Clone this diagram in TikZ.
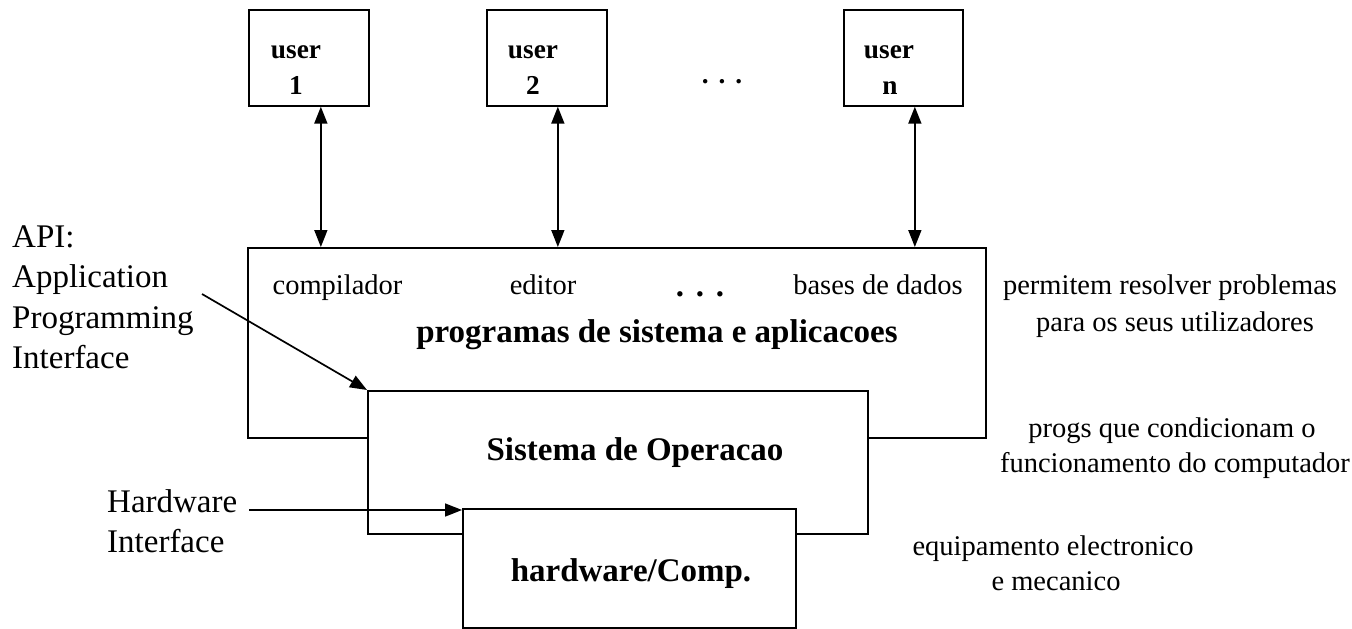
\documentclass[tikz,border=0pt]{standalone}
\usepackage{fontspec}
\setmainfont{Liberation Serif}
\usetikzlibrary{arrows.meta}
\tikzset{
  box/.style={draw, line width=1.7pt, fill=white, rectangle, inner sep=0pt, anchor=north west},
  txt/.style={inner sep=0pt, anchor=base, font=\fontsize{28.5}{34}\selectfont},
  ltxt/.style={inner sep=0pt, anchor=base west, font=\fontsize{33}{40}\selectfont},
  btxt/.style={inner sep=0pt, anchor=base, font=\fontsize{33}{40}\selectfont\bfseries},
  utxt/.style={inner sep=0pt, anchor=base, font=\fontsize{27.3}{34}\selectfont\bfseries},
  arr/.style={line width=1.7pt, -{Triangle[length=17pt,width=13pt]}},
  dbl/.style={line width=1.7pt, {Triangle[length=17pt,width=13pt]}-{Triangle[length=17pt,width=13pt]}}
}
\begin{document}
\begin{tikzpicture}[x=1pt,y=-1pt]
\useasboundingbox (0,0) rectangle (1352,629);
% boxes
\node[box, minimum width=738pt, minimum height=190pt] (app) at (247,247) {};
\node[box, minimum width=500pt, minimum height=143pt] (os) at (367,390) {};
\node[box, minimum width=333pt, minimum height=119pt] (hw) at (462,508) {};
\node[box, minimum width=120pt, minimum height=96pt] (u1) at (248,9) {};
\node[box, minimum width=120pt, minimum height=96pt] (u2) at (486,9) {};
\node[box, minimum width=119pt, minimum height=96pt] (un) at (843,9) {};
% user texts
\node[utxt] (u1a) at (296,58) {user};
\node[utxt] (u1b) at (296,94) {1};
\node[utxt] (u2a) at (533,58) {user};
\node[utxt] (u2b) at (533,94) {2};
\node[utxt] (una) at (889,58) {user};
\node[utxt] (unb) at (890,94) {n};
\node[utxt] (topdots) at (722,83) {.\hspace{10pt}.\hspace{10pt}.};
% app box texts
\node[txt] (comp) at (337.5,294) {compilador};
\node[txt] (edit) at (543,294) {editor};
\node[btxt] (appdots) at (700,296) {.\hspace{11.7pt}.\hspace{11.7pt}.};
\node[txt] (bd) at (878,294) {bases de dados};
\node[btxt] (prog) at (657,342) {programas de sistema e aplicacoes};
\node[btxt] (sist) at (635,460) {Sistema de Operacao};
\node[btxt] (hwt) at (631,581) {hardware/Comp.};
% left labels
\node[ltxt] (api1) at (12,247) {API:};
\node[ltxt] (api2) at (12,287) {Application};
\node[ltxt] (api3) at (12,328) {Programming};
\node[ltxt] (api4) at (12,368) {Interface};
\node[ltxt] (hi1) at (107,512) {Hardware};
\node[ltxt] (hi2) at (107,552) {Interface};
% right labels
\node[txt] (r1) at (1170,294) {permitem resolver problemas};
\node[txt] (r2) at (1175,331) {para os seus utilizadores};
\node[txt] (r3) at (1172,437) {progs que condicionam o};
\node[txt] (r4) at (1175,472) {funcionamento do computador};
\node[txt] (r5) at (1053,555) {equipamento electronico};
\node[txt] (r6) at (1056,590) {e mecanico};
% connectors
\draw[dbl] ([xshift=12pt]u1.south) -- ([xshift=12pt]u1.south |- app.north);
\draw[dbl] ([xshift=11pt]u2.south) -- ([xshift=11pt]u2.south |- app.north);
\draw[dbl] ([xshift=11.5pt]un.south) -- ([xshift=11.5pt]un.south |- app.north);
\coordinate (apistart) at (202,294);
\coordinate (hwstart) at (249,510);
\draw[arr] (apistart) -- (os.north west);
\draw[arr] (hwstart) -- (hwstart -| hw.north west);
\end{tikzpicture}
\end{document}
